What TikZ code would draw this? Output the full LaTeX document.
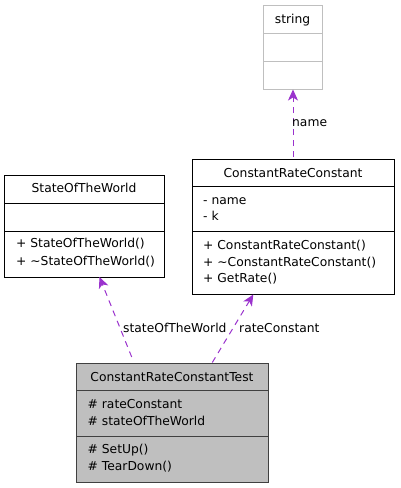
\documentclass[tikz,border=0pt]{standalone}
\usepackage{fontspec}
\setmainfont{DejaVu Sans}
\usetikzlibrary{arrows.meta}
\definecolor{usecol}{HTML}{9A32CD}
\definecolor{grayfill}{HTML}{BFBFBF}
\definecolor{lightedge}{HTML}{BFBFBF}
\tikzset{
  umlbox/.style={draw=black, line width=1pt, inner sep=0pt, anchor=north west},
  txt/.style={inner sep=0pt, font=\fontsize{12.3}{14}\selectfont, anchor=base west},
  ttl/.style={inner sep=0pt, font=\fontsize{12.3}{14}\selectfont, anchor=base},
  uses/.style={draw=usecol, line width=1pt, dash pattern=on 6pt off 5pt,
    -{Stealth[length=11pt,width=10pt,inset=3pt]}},
  lbl/.style={inner sep=0pt, font=\fontsize{12.3}{14}\selectfont, anchor=base west}
}
\begin{document}
\begin{tikzpicture}[x=1pt,y=-1pt]
\useasboundingbox (0,0) rectangle (400,488);
% string
\node[umlbox, draw=lightedge, minimum width=59pt, minimum height=84pt] (str) at (263,5) {};
\draw[lightedge, line width=1pt] (263,33.3) -- (322,33.3);
\draw[lightedge, line width=1pt] (263,61.7) -- (322,61.7);
\node[ttl] (strt) at (292.5,23.3) {string};
% StateOfTheWorld
\node[umlbox, minimum width=160pt, minimum height=102pt] (sotw) at (4,175) {};
\draw[line width=1pt] (4,203.3) -- (164,203.3);
\draw[line width=1pt] (4,231.7) -- (164,231.7);
\node[ttl] (sotwt) at (84,192.6) {StateOfTheWorld};
\node[txt] (sotwm1) at (16,247.6) {+ StateOfTheWorld()};
\node[txt] (sotwm2) at (16,265) {+ \char"223C StateOfTheWorld()};
% ConstantRateConstant
\node[umlbox, minimum width=202pt, minimum height=135pt] (crc) at (192,159) {};
\draw[line width=1pt] (192,186.7) -- (394,186.7);
\draw[line width=1pt] (192,231.7) -- (394,231.7);
\node[ttl] (crct) at (293,177) {ConstantRateConstant};
\node[txt] (crca1) at (203,204.3) {- name};
\node[txt] (crca2) at (203,220.6) {- k};
\node[txt] (crcm1) at (203,249.3) {+ ConstantRateConstant()};
\node[txt] (crcm2) at (203,266) {+ \char"223C ConstantRateConstant()};
\node[txt] (crcm3) at (203,282.6) {+ GetRate()};
% ConstantRateConstantTest
\node[umlbox, draw=black!75, fill=grayfill, minimum width=192pt, minimum height=119pt] (test) at (76,363) {};
\draw[black!75, line width=1pt] (76,390.7) -- (268,390.7);
\draw[black!75, line width=1pt] (76,436.7) -- (268,436.7);
\node[ttl] (testt) at (172,381) {ConstantRateConstantTest};
\node[txt] (testa1) at (87.5,408.6) {\# rateConstant};
\node[txt] (testa2) at (87.5,425.3) {\# stateOfTheWorld};
\node[txt] (testm1) at (87.5,453.6) {\# SetUp()};
\node[txt] (testm2) at (87.5,470.3) {\# TearDown()};
% connectors
\coordinate (c1s) at (293,157);
\coordinate (c1e) at (293,89.5);
\coordinate (c2s) at (131.7,357);
\coordinate (c2e) at (99.5,277);
\coordinate (c3s) at (212.3,362.5);
\coordinate (c3e) at (253.3,294.5);
\draw[uses] (c1s) -- (c1e);
\draw[uses] (c2s) -- (c2e);
\draw[uses] (c3s) -- (c3e);
\node[lbl] (l1) at (292,126.3) {name};
\node[lbl] (l2) at (123,332.6) {stateOfTheWorld};
\node[lbl] (l3) at (239,332.6) {rateConstant};
\end{tikzpicture}
\end{document}
